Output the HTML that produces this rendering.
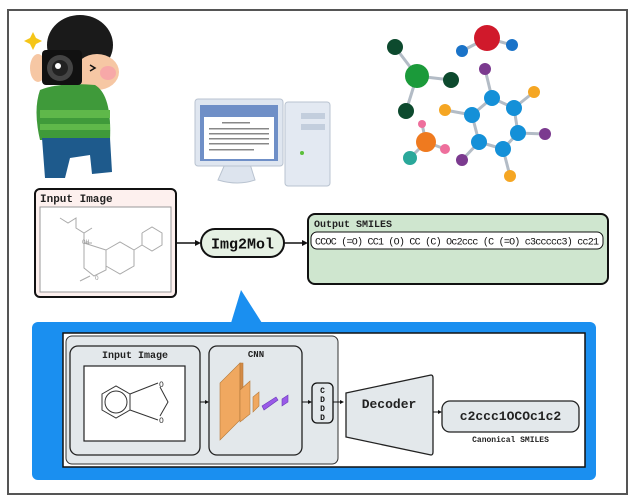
<!DOCTYPE html>
<html><head><meta charset="utf-8"><style>
html,body{margin:0;padding:0;background:#fff;}
svg{display:block;}
text{font-family:"Liberation Mono",monospace;}
</style></head><body>
<svg width="639" height="504" viewBox="0 0 639 504" xmlns="http://www.w3.org/2000/svg">
<rect x="8" y="10" width="619" height="484" fill="#fff" stroke="#555" stroke-width="2"/>

<!-- photographer -->
<g>
<path d="M30 38 l3 -6 l3 6 l6 3 l-6 3 l-3 6 l-3 -6 l-6 -3z" fill="#f5c518"/>
<ellipse cx="80" cy="45" rx="33" ry="30" fill="#1a1a1a"/>
<ellipse cx="97" cy="72" rx="22" ry="18" fill="#f6c7a4"/>
<ellipse cx="108" cy="73" rx="8" ry="7" fill="#f7a8a8"/>
<path d="M40 90 Q60 82 95 85 Q112 95 110 140 L40 140 Q33 110 40 90z" fill="#3f9a3a"/>
<rect x="40" y="110" width="70" height="8" fill="#5fb84a"/>
<rect x="40" y="124" width="70" height="6" fill="#5fb84a"/>
<path d="M42 138 L110 138 L112 172 L92 174 L90 155 L70 158 L65 178 L45 178 Z" fill="#1e5a8c"/>
<ellipse cx="38" cy="68" rx="8" ry="14" fill="#f6c7a4"/>
<rect x="42" y="50" width="40" height="35" rx="4" fill="#111"/>
<circle cx="60" cy="68" r="13" fill="#444"/><circle cx="60" cy="68" r="8" fill="#222"/><circle cx="58" cy="66" r="3" fill="#fff"/>
<path d="M90 65 l5 3 l-5 3" fill="none" stroke="#111" stroke-width="1.5"/>
</g>

<!-- computer -->
<g>
<rect x="285" y="102" width="45" height="84" rx="3" fill="#e3e9f2" stroke="#b9c3d0"/>
<rect x="301" y="113" width="24" height="6" fill="#c3cedd"/>
<rect x="301" y="124" width="24" height="6" fill="#c3cedd"/>
<circle cx="302" cy="153" r="2" fill="#5bbf3a"/>
<path d="M225 164 L250 164 L255 180 Q238 186 218 180 Z" fill="#dde4ee" stroke="#b9c3d0"/>
<rect x="195" y="99" width="88" height="67" rx="3" fill="#dfe6f0" stroke="#b9c3d0"/>
<rect x="200" y="105" width="78" height="56" fill="#6f8fc7"/>
<rect x="204" y="117" width="70" height="42" fill="#fff"/>
<g fill="#888">
<rect x="209" y="128" width="60" height="1.5"/><rect x="209" y="133" width="60" height="1.5"/><rect x="209" y="138" width="60" height="1.5"/><rect x="209" y="143" width="60" height="1.5"/><rect x="209" y="149" width="45" height="1.5"/><rect x="222" y="122" width="28" height="1.5"/>
</g>
</g>

<!-- molecule -->
<g stroke="#b3bcc6" stroke-width="3">
<line x1="395" y1="47" x2="417" y2="76"/><line x1="417" y1="76" x2="451" y2="80"/><line x1="417" y1="76" x2="406" y2="111"/>
<line x1="462" y1="51" x2="487" y2="38"/><line x1="487" y1="38" x2="512" y2="45"/>
<line x1="485" y1="69" x2="492" y2="98"/>
<polyline points="492,98 514,108 518,133 503,149 479,142 472,115 492,98" fill="none"/>
<line x1="514" y1="108" x2="534" y2="92"/><line x1="518" y1="133" x2="545" y2="134"/><line x1="503" y1="149" x2="510" y2="176"/>
<line x1="479" y1="142" x2="462" y2="160"/><line x1="472" y1="115" x2="445" y2="110"/>
<line x1="426" y1="142" x2="422" y2="124"/><line x1="426" y1="142" x2="445" y2="149"/><line x1="426" y1="142" x2="410" y2="158"/>
</g>
<g>
<circle cx="395" cy="47" r="8" fill="#0d4a2e"/><circle cx="417" cy="76" r="12" fill="#1b9a3a"/><circle cx="451" cy="80" r="8" fill="#0d4a2e"/><circle cx="406" cy="111" r="8" fill="#0d4a2e"/>
<circle cx="487" cy="38" r="13" fill="#d0192b"/><circle cx="462" cy="51" r="6" fill="#1a73c8"/><circle cx="512" cy="45" r="6" fill="#1a73c8"/>
<circle cx="485" cy="69" r="6" fill="#7b3a8f"/>
<circle cx="492" cy="98" r="8" fill="#1490d8"/><circle cx="514" cy="108" r="8" fill="#1490d8"/><circle cx="518" cy="133" r="8" fill="#1490d8"/><circle cx="503" cy="149" r="8" fill="#1490d8"/><circle cx="479" cy="142" r="8" fill="#1490d8"/><circle cx="472" cy="115" r="8" fill="#1490d8"/>
<circle cx="534" cy="92" r="6" fill="#f5a623"/><circle cx="545" cy="134" r="6" fill="#7b3a8f"/><circle cx="510" cy="176" r="6" fill="#f5a623"/><circle cx="445" cy="110" r="6" fill="#f5a623"/><circle cx="462" cy="160" r="6" fill="#7b3a8f"/>
<circle cx="426" cy="142" r="10" fill="#ef7a1f"/><circle cx="422" cy="124" r="4" fill="#ee6f9c"/><circle cx="445" cy="149" r="5" fill="#ee6f9c"/><circle cx="410" cy="158" r="7" fill="#2aa89a"/>
</g>

<!-- Input image top -->
<rect x="35" y="189" width="141" height="108" rx="5" fill="#fdf0ee" stroke="#111" stroke-width="2"/>
<text x="40" y="202" font-size="11" font-weight="bold" fill="#222">Input Image</text>
<rect x="40" y="207" width="131" height="85" fill="#fff" stroke="#999"/>
<g fill="none" stroke="#aaa" stroke-width="1">
<path d="M60 218 l8 5 l8 -5 l0 10 l8 5 l8 -5 M84 233 l0 10 l8 0"/>
<path d="M84 243 l0 25 l10 8 l12 -6 l0 -20 l-22 -7"/>
<path d="M106 250 l14 -8 l14 8 l0 16 l-14 8 l-14 -8"/>
<path d="M134 250 l8 -5 l0 -12 M142 233 l10 -6 l10 6 l0 12 l-10 6 l-10 -6"/>
<path d="M90 276 l-10 5"/>
</g>
<text x="82" y="244" font-size="6" fill="#999" font-family="Liberation Sans">OH</text>
<text x="95" y="280" font-size="6" fill="#999" font-family="Liberation Sans">O</text>

<!-- arrows -->
<line x1="176" y1="243" x2="196" y2="243" stroke="#111" stroke-width="1.5"/>
<path d="M201 243 l-6 -3 l0 6z" fill="#111"/>
<rect x="201" y="229" width="83" height="28" rx="14" fill="#e6f1e4" stroke="#111" stroke-width="2"/>
<text x="242.5" y="248.5" font-size="15" font-weight="bold" text-anchor="middle" fill="#111">Img2Mol</text>
<line x1="284" y1="243" x2="303" y2="243" stroke="#111" stroke-width="1.5"/>
<path d="M308 243 l-6 -3 l0 6z" fill="#111"/>
<rect x="308" y="214" width="300" height="70" rx="7" fill="#cfe6cf" stroke="#111" stroke-width="2"/>
<text x="314" y="227" font-size="10" font-weight="bold" fill="#222">Output SMILES</text>
<rect x="311" y="232" width="292" height="17" rx="6" fill="#fff" stroke="#111"/>
<text x="315" y="244.5" font-size="10" fill="#111" font-family="Liberation Sans" textLength="284">CCOC (=O) CC1 (O) CC (C) Oc2ccc (C (=O) c3ccccc3) cc21</text>

<!-- blue panel -->
<path d="M231 323 L241 290 L262 323 Z" fill="#1a8ff0"/>
<rect x="32" y="322" width="564" height="158" rx="6" fill="#1a8ff0"/>
<rect x="63" y="333" width="522" height="134" fill="#fff" stroke="#111" stroke-width="1.5"/>
<rect x="66" y="336" width="272" height="128" rx="6" fill="#e3e8eb" stroke="#333"/>
<rect x="70" y="346" width="130" height="109" rx="8" fill="#e3e8eb" stroke="#222" stroke-width="1.3"/>
<text x="135" y="358" font-size="10" font-weight="bold" text-anchor="middle" fill="#222">Input Image</text>
<rect x="84" y="366" width="101" height="75" fill="#fff" stroke="#222" stroke-width="1.2"/>
<g fill="none" stroke="#333" stroke-width="1">
<polygon points="102,394 116,386 130,394 130,410 116,418 102,410"/>
<circle cx="116" cy="402" r="11"/>
<path d="M130 394 L158 383 M130 410 L158 420 M160 387 L168 402 L160 416"/>
</g>
<text x="159" y="387" font-size="8" fill="#333" font-family="Liberation Sans">O</text>
<text x="159" y="423" font-size="8" fill="#333" font-family="Liberation Sans">O</text>
<line x1="200" y1="402" x2="206" y2="402" stroke="#111"/><path d="M209 402 l-4 -2 l0 4z" fill="#111"/>
<rect x="209" y="346" width="93" height="109" rx="8" fill="#e3e8eb" stroke="#222" stroke-width="1.3"/>
<text x="256" y="357" font-size="9" font-weight="bold" text-anchor="middle" fill="#222">CNN</text>
<g stroke="#b57a3a" stroke-width="0.6">
<polygon points="220,383 240,363 240,420 220,440" fill="#f0a860"/>
<polygon points="240,363 243,363 243,420 240,420" fill="#d48a45"/>
<polygon points="240,390 250,381 250,414 240,422" fill="#f0a860"/>
<polygon points="253,397 259,392 259,406 253,412" fill="#f0a860"/>
<polygon points="262,406 276,397 278,400 264,410" fill="#9a5ae8" stroke="#6a3ab8"/>
<polygon points="282,399 288,395 288,402 282,406" fill="#9a5ae8" stroke="#6a3ab8"/>
</g>
<line x1="302" y1="402" x2="309" y2="402" stroke="#111"/><path d="M312 402 l-4 -2 l0 4z" fill="#111"/>
<rect x="312" y="383" width="21" height="40" rx="5" fill="#e3e8eb" stroke="#111" stroke-width="1.3"/>
<text x="322.5" y="393" font-size="8" font-weight="bold" text-anchor="middle" fill="#111">C</text>
<text x="322.5" y="402" font-size="8" font-weight="bold" text-anchor="middle" fill="#111">D</text>
<text x="322.5" y="411" font-size="8" font-weight="bold" text-anchor="middle" fill="#111">D</text>
<text x="322.5" y="420" font-size="8" font-weight="bold" text-anchor="middle" fill="#111">D</text>
<line x1="333" y1="402" x2="340" y2="402" stroke="#111"/><path d="M344 402 l-4 -2 l0 4z" fill="#111"/>
<path d="M346 393 L431 375 Q433 375 433 378 L433 452 Q433 455 431 455 L346 437 Z" fill="#e3e8eb" stroke="#222" stroke-width="1.3"/>
<text x="389" y="408" font-size="13" font-weight="bold" text-anchor="middle" fill="#222">Decoder</text>
<line x1="433" y1="412" x2="438" y2="412" stroke="#111"/><path d="M442 412 l-4 -2 l0 4z" fill="#111"/>
<rect x="442" y="401" width="137" height="31" rx="8" fill="#e3e8eb" stroke="#222" stroke-width="1.3"/>
<text x="510.5" y="420" font-size="13" font-weight="bold" text-anchor="middle" fill="#222">c2ccc1OCOc1c2</text>
<text x="510.5" y="442" font-size="8" font-weight="bold" text-anchor="middle" fill="#222">Canonical SMILES</text>
</svg>
</body></html>
